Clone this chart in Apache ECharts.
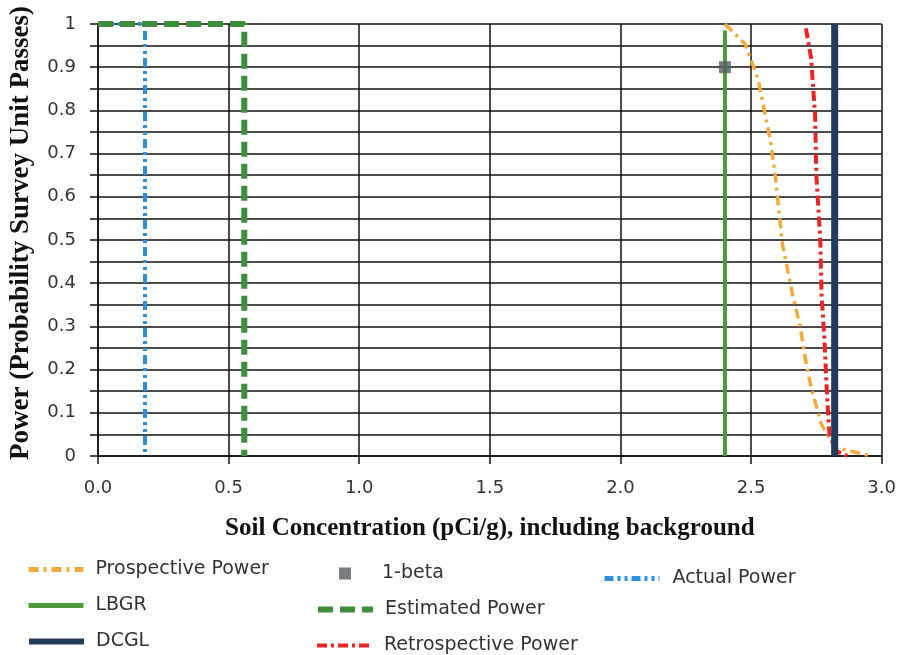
<!DOCTYPE html>
<html>
<head>
<meta charset="utf-8">
<script src="https://cdn.jsdelivr.net/npm/echarts@6/dist/echarts.min.js"></script>
<style>html,body{margin:0;padding:0;background:#fff;}#c{width:899px;height:655px;}</style>
</head>
<body>
<div id="c"></div>
<script>
// ---- data ----
const xTicks = [0, 0.5, 1.0, 1.5, 2.0, 2.5, 3.0];
const yTicks = [0, 0.1, 0.2, 0.3, 0.4, 0.5, 0.6, 0.7, 0.8, 0.9, 1];

const prospectiveX = [2.40, 2.477, 2.527, 2.546, 2.573, 2.592, 2.62, 2.66, 2.688, 2.707, 2.73, 2.77, 2.82, 2.96];
const prospectiveY = [1.00, 0.954, 0.872, 0.814, 0.733, 0.652, 0.49, 0.37, 0.30, 0.227, 0.158, 0.072, 0.02, 0.0];

const retrospectiveX = [2.71, 2.73, 2.745, 2.75, 2.765, 2.77, 2.78, 2.79, 2.80, 2.83, 2.87];
const retrospectiveY = [0.99, 0.92, 0.79, 0.65, 0.50, 0.37, 0.28, 0.15, 0.05, 0.01, 0.0];

const actualX = [0.0, 0.18, 0.18];
const actualY = [1.0, 1.0, 0.0];

const estimatedX = [0.0, 0.56, 0.56];
const estimatedY = [1.0, 1.0, 0.0];

const lbgrX = [2.40, 2.40];
const lbgrY = [0.0, 0.985];

const dcglX = [2.82, 2.82];
const dcglY = [0.0, 1.0];

const betaX = [2.40];
const betaY = [0.90];

const zip = (xs, ys) => xs.map((x, i) => [x, ys[i]]);

const chart = echarts.init(document.getElementById('c'));
const lab = {fontFamily: 'DejaVu Sans', fontSize: 18, color: '#333'};
const legText = {fontFamily: 'DejaVu Sans', fontSize: 19, color: '#333'};

function leg(name, left, centerY, w, lw, padL, extra) {
  return Object.assign({
    orient: 'horizontal', left: left, top: centerY - 10, padding: 0,
    itemWidth: w, itemHeight: 8, textStyle: Object.assign({padding: [0, 0, 0, padL]}, legText),
    itemStyle: {opacity: 0}, lineStyle: {width: lw}, data: [name]
  }, extra || {});
}

chart.setOption({
  animation: false,
  backgroundColor: '#fff',
  grid: {left: 98, right: 16, top: 24, bottom: 199, containLabel: false},
  xAxis: {
    type: 'value', min: 0, max: 3, interval: 0.5,
    name: 'Soil Concentration (pCi/g), including background',
    nameLocation: 'middle', nameGap: 60,
    nameTextStyle: {fontFamily: 'Liberation Serif', fontWeight: 'bold', fontSize: 25, color: '#111'},
    axisLine: {show: true, lineStyle: {color: '#111', width: 1.5}},
    axisTick: {show: true, inside: false, length: 8, lineStyle: {color: '#111', width: 1.5}},
    axisLabel: Object.assign({margin: 23, formatter: v => v.toFixed(1)}, lab),
    splitLine: {show: true, lineStyle: {color: '#111', width: 1.5}}
  },
  yAxis: {
    type: 'value', min: 0, max: 1, interval: 0.1,
    name: 'Power (Probability Survey Unit Passes)',
    nameLocation: 'middle', nameGap: 63,
    nameTextStyle: {fontFamily: 'Liberation Serif', fontWeight: 'bold', fontSize: 27, color: '#111', padding: [0, 0, 0, 14]},
    axisLine: {show: true, lineStyle: {color: '#111', width: 1.5}},
    axisTick: {show: true, length: 8, lineStyle: {color: '#111', width: 1.5}},
    minorTick: {show: true, splitNumber: 2, length: 8, lineStyle: {color: '#111', width: 1.5}},
    minorSplitLine: {show: true, lineStyle: {color: '#111', width: 1.5}},
    axisLabel: Object.assign({margin: 22, formatter: v => (v === 0 || v === 1) ? String(v) : v.toFixed(1)}, lab),
    splitLine: {show: true, lineStyle: {color: '#111', width: 1.5}}
  },
  legend: [
    leg('Prospective Power', 26, 570, 55, 5, 7),
    leg('LBGR', 26, 606, 55, 5, 7),
    leg('DCGL', 26, 642, 55, 6, 7),
    leg('1-beta', 339, 574, 12, 1, 26, {itemHeight: 12, itemStyle: {}}),
    leg('Estimated Power', 315, 610, 55, 6, 7),
    leg('Retrospective Power', 315, 646, 55, 4, 7),
    leg('Actual Power', 602, 579, 55, 5, 8)
  ],
  series: [
    {name: 'Actual Power', type: 'line', data: zip(actualX, actualY), showSymbol: false, symbol: 'none',
     lineStyle: {color: '#2f8fdb', width: 4, type: [9, 4, 3, 4, 3, 4]}, itemStyle: {color: '#2f8fdb'}},
    {name: 'Estimated Power', type: 'line', data: zip(estimatedX, estimatedY), showSymbol: false, symbol: 'none',
     lineStyle: {color: '#3e8e3e', width: 6, type: [15, 7]}, itemStyle: {color: '#3e8e3e'}},
    {name: 'LBGR', type: 'line', data: zip(lbgrX, lbgrY), showSymbol: false, symbol: 'none',
     lineStyle: {color: '#4c9a3c', width: 4}, itemStyle: {color: '#4c9a3c'}},
    {name: 'Prospective Power', type: 'line', data: zip(prospectiveX, prospectiveY), showSymbol: false, symbol: 'none',
     lineStyle: {color: '#f5a93a', width: 3.5, type: [10, 5, 3, 5]}, itemStyle: {color: '#f5a93a'}},
    {name: 'Retrospective Power', type: 'line', data: zip(retrospectiveX, retrospectiveY), showSymbol: false, symbol: 'none',
     lineStyle: {color: '#ee2424', width: 4, type: [10, 4, 3, 4]}, itemStyle: {color: '#ee2424'}},
    {name: 'DCGL', type: 'line', data: zip(dcglX, dcglY), showSymbol: false, symbol: 'none',
     lineStyle: {color: '#233a58', width: 7}, itemStyle: {color: '#233a58'}},
    {name: '1-beta', type: 'scatter', data: zip(betaX, betaY), symbol: 'rect', symbolSize: 12,
     itemStyle: {color: '#565c62'}, z: 5}
  ]
});
</script>
</body>
</html>
